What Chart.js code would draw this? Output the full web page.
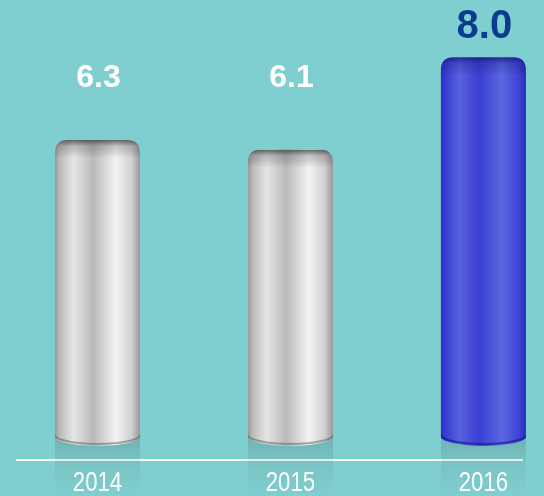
<!DOCTYPE html>
<html>
<head>
<meta charset="utf-8">
<script src="https://cdn.jsdelivr.net/npm/chart.js@4.4.1/dist/chart.umd.min.js"></script>
<style>
  html, body { margin: 0; padding: 0; background: #80cfd0; }
  #wrap { width: 544px; height: 496px; position: relative; }
</style>
</head>
<body>
<div id="wrap"><canvas id="c"></canvas></div>
<script>
const years = ['2014', '2015', '2016'];
const values = [6.3, 6.1, 8.0];
const highlightYear = '2016';

const cylinderPlugin = {
  id: 'cylinders',
  beforeDatasetsDraw(chart) {
    const ctx = chart.ctx;
    const meta = chart.getDatasetMeta(0);
    meta.data.forEach((el) => {
      const p = el.getProps(['x', 'y', 'base', 'width'], true);
      const l = p.x - p.width / 2;
      const top = p.base - 12;
      const g = ctx.createLinearGradient(0, top, 0, chart.height);
      g.addColorStop(0, 'rgba(70,110,110,0.30)');
      g.addColorStop(0.45, 'rgba(70,110,110,0.12)');
      g.addColorStop(1, 'rgba(70,110,110,0.0)');
      ctx.save();
      ctx.fillStyle = g;
      ctx.fillRect(l, top, p.width, chart.height - top);
      ctx.restore();
    });
  },
  afterDatasetsDraw(chart) {
    const ctx = chart.ctx;
    const meta = chart.getDatasetMeta(0);
    const yScale = chart.scales.y;
    meta.data.forEach((el, i) => {
      const p = el.getProps(['x', 'y', 'base', 'width'], true);
      const x = p.x, y = p.y, base = p.base, w = p.width;
      const l = x - w / 2, r = x + w / 2;
      const rt = 13, ry = 9;
      const blue = years[i] === highlightYear;
      const g = ctx.createLinearGradient(l, 0, r, 0);
      if (blue) {
        g.addColorStop(0, '#2a2ec0');
        g.addColorStop(0.06, '#3a3dd2');
        g.addColorStop(0.22, '#5862de');
        g.addColorStop(0.45, '#3a3ed2');
        g.addColorStop(0.72, '#5a68e0');
        g.addColorStop(0.92, '#3d42d4');
        g.addColorStop(1, '#2a2cb8');
      } else {
        g.addColorStop(0, '#9a9a9a');
        g.addColorStop(0.06, '#bcbcbc');
        g.addColorStop(0.22, '#e6e6e6');
        g.addColorStop(0.45, '#b9b9b9');
        g.addColorStop(0.72, '#f4f4f4');
        g.addColorStop(0.9, '#d0d0d0');
        g.addColorStop(1, '#989898');
      }
      ctx.save();
      ctx.beginPath();
      ctx.moveTo(l, y + rt);
      ctx.quadraticCurveTo(l, y, l + rt, y);
      ctx.lineTo(r - rt, y);
      ctx.quadraticCurveTo(r, y, r, y + rt);
      ctx.lineTo(r, base - ry);
      ctx.ellipse(x, base - ry, w / 2, ry, 0, 0, Math.PI);
      ctx.closePath();
      ctx.fillStyle = g;
      ctx.fill();
      ctx.clip();
      const tg = ctx.createLinearGradient(0, y, 0, y + 18);
      tg.addColorStop(0, blue ? 'rgba(20,20,120,0.75)' : 'rgba(50,50,50,0.75)');
      tg.addColorStop(0.35, blue ? 'rgba(20,20,120,0.25)' : 'rgba(60,60,60,0.25)');
      tg.addColorStop(1, 'rgba(0,0,0,0)');
      ctx.fillStyle = tg;
      ctx.fillRect(l, y, w, 18);
      ctx.beginPath();
      ctx.ellipse(x, base - ry - 2, w / 2, ry, 0, 0, Math.PI);
      ctx.lineWidth = 2;
      ctx.strokeStyle = blue ? 'rgba(20,20,140,0.6)' : 'rgba(90,90,90,0.5)';
      ctx.stroke();
      ctx.restore();

      const ly = Math.min(y, yScale.getPixelForValue(7)) - (blue ? 30 : 28);
      ctx.save();
      ctx.textAlign = 'center';
      ctx.textBaseline = 'middle';
      ctx.fillStyle = blue ? '#0b3a8e' : '#ffffff';
      ctx.font = 'bold ' + (blue ? 40 : 32) + 'px "Liberation Sans", Arial, sans-serif';
      ctx.fillText(values[i].toFixed(1), x + 1, ly);
      ctx.restore();
    });
  },
  afterDraw(chart) {
    // condensed category labels under the axis
    const ctx = chart.ctx;
    const xs = chart.scales.x;
    const sx = 0.82;
    ctx.save();
    ctx.fillStyle = '#ffffff';
    ctx.textAlign = 'center';
    ctx.textBaseline = 'middle';
    ctx.font = '27px "Liberation Sans", Arial, sans-serif';
    xs.ticks.forEach((t, i) => {
      const px = xs.getPixelForValue(t.value);
      ctx.save();
      ctx.translate(px, xs.bottom + 24);
      ctx.scale(sx, 1);
      ctx.fillText(years[i], 0, 0);
      ctx.restore();
    });
    ctx.restore();
  }
};

new Chart(document.getElementById('c'), {
  type: 'bar',
  data: {
    datasets: [{
      data: years.map((yr, i) => ({ x: i, y: values[i] })),
      backgroundColor: 'rgba(0,0,0,0)',
      borderWidth: 0,
      barThickness: 85
    }]
  },
  options: {
    responsive: true,
    maintainAspectRatio: false,
    animation: false,
    events: [],
    layout: { padding: { left: 17, right: 22, top: 0, bottom: 36 } },
    plugins: { legend: { display: false }, tooltip: { enabled: false } },
    scales: {
      x: {
        type: 'linear',
        offset: false,
        min: -0.417,
        max: 2.2,
        afterBuildTicks: (s) => { s.ticks = years.map((_, i) => ({ value: i })); },
        grid: { display: false, drawTicks: false },
        border: { display: true, color: '#ffffff', width: 2 },
        ticks: { display: false }
      },
      y: {
        display: false,
        min: -0.29,
        max: 9.18
      }
    }
  },
  plugins: [cylinderPlugin]
});
</script>
</body>
</html>
